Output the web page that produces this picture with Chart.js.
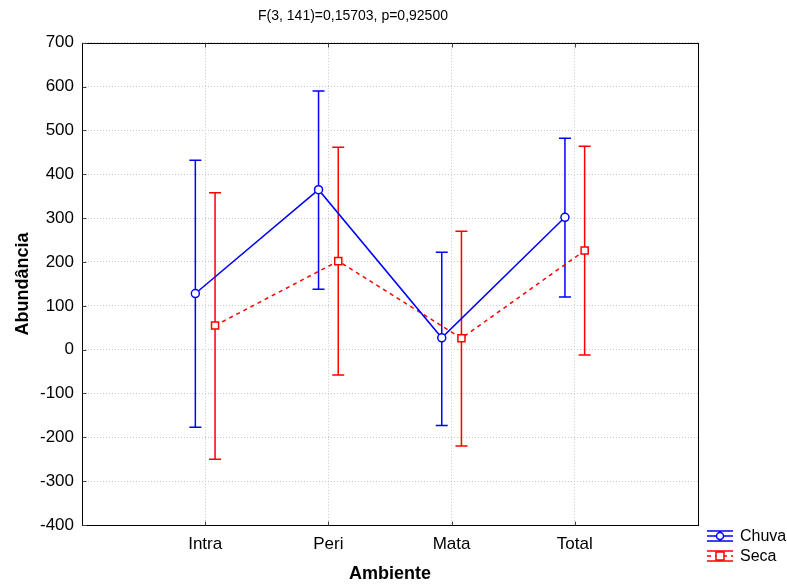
<!DOCTYPE html>
<html>
<head>
<meta charset="utf-8">
<script src="https://cdn.jsdelivr.net/npm/chart.js@4"></script>
<style>
  html, body { margin: 0; padding: 0; background: #fff; }
  #wrap { width: 787px; height: 585px; }
</style>
</head>
<body>
<div id="wrap"><canvas id="myChart" width="787" height="585"></canvas></div>
<script>
// data
const categories = ["Intra", "Peri", "Mata", "Total"];
const chuvaMean  = [128, 365, 27, 302];
const chuvaLow   = [-177, 138, -173, 120];
const chuvaHigh  = [432, 590, 222, 482];
const secaMean   = [55, 202, 26, 226];
const secaLow    = [-250, -58, -220, -12];
const secaHigh   = [358, 462, 270, 464];
const yTicks     = [-400, -300, -200, -100, 0, 100, 200, 300, 400, 500, 600, 700];

const shift = 0.08;
const fontFam = "'Liberation Sans', Arial, sans-serif";

function pts(means, dx) {
    return means.map((v, i) => ({ x: i + 1 + dx, y: v }));
}

const series = [
    { label: "Chuva", color: "#0000ff", dash: [], low: chuvaLow, high: chuvaHigh, dx: -shift, marker: "circle" },
    { label: "Seca",  color: "#ff0000", dash: [4, 4], low: secaLow, high: secaHigh, dx: shift, marker: "rect" }
];

const errorBars = {
    id: "errorBars",
    beforeDatasetsDraw(chart) {
        const ctx = chart.ctx, xs = chart.scales.x, ys = chart.scales.y;
        ctx.save();
        ctx.lineWidth = 1.5;
        series.forEach(s => {
            ctx.strokeStyle = s.color;
            s.low.forEach((lo, i) => {
                const px = xs.getPixelForValue(i + 1 + s.dx);
                const y1 = ys.getPixelForValue(lo), y2 = ys.getPixelForValue(s.high[i]);
                ctx.beginPath();
                ctx.moveTo(px, y1); ctx.lineTo(px, y2);
                ctx.moveTo(px - 6, y1); ctx.lineTo(px + 6, y1);
                ctx.moveTo(px - 6, y2); ctx.lineTo(px + 6, y2);
                ctx.stroke();
            });
        });
        ctx.restore();
    },
    afterDraw(chart) {
        const ctx = chart.ctx, a = chart.chartArea, xs = chart.scales.x, ys = chart.scales.y;
        ctx.save();
        // frame round the plot
        ctx.strokeStyle = "#000";
        ctx.lineWidth = 1;
        const L = Math.round(a.left) + 0.5, T = Math.round(a.top) + 0.5;
        const R = Math.round(a.right) + 0.5, B = Math.round(a.bottom) + 0.5;
        ctx.strokeRect(L, T, R - L, B - T);
        // short inward ticks
        ctx.strokeStyle = "#444";
        ctx.beginPath();
        yTicks.forEach(v => {
            const py = Math.round(ys.getPixelForValue(v)) + 0.5;
            ctx.moveTo(L, py); ctx.lineTo(L + 4, py);
        });
        [1, 2, 3, 4].forEach(v => {
            const px = Math.round(xs.getPixelForValue(v)) + 0.5;
            ctx.moveTo(px, B); ctx.lineTo(px, B - 4);
            ctx.moveTo(px, T); ctx.lineTo(px, T + 4);
        });
        ctx.stroke();
        // legend, bottom right
        const lx = 707, lw = 26;
        series.forEach((s, k) => {
            const cy = 536 + k * 20;
            ctx.strokeStyle = s.color;
            ctx.lineWidth = 1.5;
            ctx.setLineDash([]);
            ctx.beginPath();
            ctx.moveTo(lx, cy - 5); ctx.lineTo(lx + lw, cy - 5);
            ctx.moveTo(lx, cy + 5); ctx.lineTo(lx + lw, cy + 5);
            ctx.moveTo(lx + lw / 2, cy - 5); ctx.lineTo(lx + lw / 2, cy + 5);
            ctx.stroke();
            ctx.setLineDash(s.dash);
            ctx.beginPath();
            ctx.moveTo(lx, cy); ctx.lineTo(lx + lw, cy);
            ctx.stroke();
            ctx.setLineDash([]);
            ctx.fillStyle = "#fff";
            ctx.beginPath();
            if (s.marker === "circle") ctx.arc(lx + lw / 2, cy, 3.5, 0, Math.PI * 2);
            else ctx.rect(lx + lw / 2 - 4, cy - 4, 8, 8);
            ctx.fill(); ctx.stroke();
            ctx.fillStyle = "#000";
            ctx.font = "16px " + fontFam;
            ctx.textBaseline = "middle";
            ctx.fillText(s.label, 740, cy + 1);
        });
        ctx.restore();
    }
};

new Chart(document.getElementById("myChart").getContext("2d"), {
    type: "scatter",
    data: {
        datasets: series.map((s, k) => ({
            label: s.label,
            data: pts(k === 0 ? chuvaMean : secaMean, s.dx),
            showLine: true,
            borderColor: s.color,
            borderWidth: 1.5,
            borderDash: s.dash,
            backgroundColor: "#fff",
            pointStyle: s.marker,
            pointRadius: s.marker === "circle" ? 4 : 5,
            pointBorderColor: s.color,
            pointBorderWidth: 1.5,
            pointBackgroundColor: "#fff"
        }))
    },
    options: {
        responsive: false,
        animation: false,
        layout: { padding: { left: 8, right: 89, top: 0, bottom: 0 } },
        plugins: {
            legend: { display: false },
            tooltip: { enabled: false },
            title: {
                display: true,
                text: "F(3, 141)=0,15703, p=0,92500",
                color: "#000",
                font: { family: fontFam, size: 14, weight: "normal" },
                padding: { top: 8, bottom: 18 }
            }
        },
        scales: {
            x: {
                type: "linear",
                min: 0, max: 5,
                afterBuildTicks(scale) {
                    scale.ticks = [0, 1, 2, 3, 4, 5].map(v => ({ value: v }));
                },
                afterFit(scale) { scale.height = 60; },
                ticks: {
                    color: "#000",
                    font: { family: fontFam, size: 17 },
                    padding: 9,
                    maxRotation: 0,
                    callback: v => categories[v - 1] || ""
                },
                grid: { color: "#c8c8c8", lineWidth: 1, drawTicks: false },
                border: { display: false, dash: [1, 2] },
                title: {
                    display: true, text: "Ambiente", color: "#000",
                    font: { family: fontFam, size: 18, weight: "bold" },
                    padding: { top: 8, bottom: 0 }
                }
            },
            y: {
                min: -400, max: 700,
                afterBuildTicks(scale) {
                    scale.ticks = yTicks.map(v => ({ value: v }));
                },
                afterFit(scale) { scale.width = 74; },
                ticks: {
                    color: "#000",
                    font: { family: fontFam, size: 17 },
                    padding: 8
                },
                grid: { color: "#c8c8c8", lineWidth: 1, drawTicks: false },
                border: { display: false, dash: [1, 2] },
                title: {
                    display: true, text: "Abundância", color: "#000",
                    font: { family: fontFam, size: 18, weight: "bold" },
                    padding: { top: 4, bottom: 4 }
                }
            }
        }
    },
    plugins: [errorBars]
});
</script>
</body>
</html>
